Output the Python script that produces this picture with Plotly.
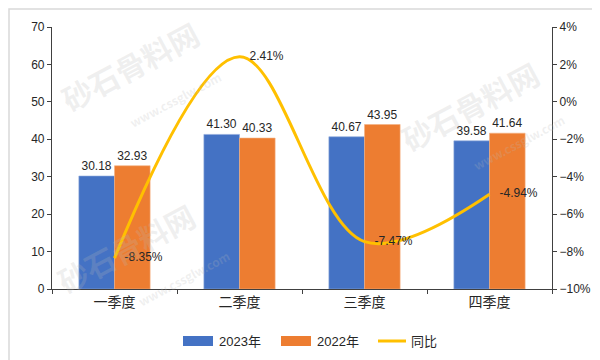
import plotly.graph_objects as go

categories = ["一季度", "二季度", "三季度", "四季度"]
values_2023 = [30.18, 41.30, 40.67, 39.58]
values_2022 = [32.93, 40.33, 43.95, 41.64]
yoy = [-8.35, 2.41, -7.47, -4.94]

font_family = "Liberation Sans, Noto Sans CJK SC, sans-serif"
txt = "#262626"
c23, c22, cl = "#4472C4", "#ED7D31", "#FFC000"

fig = go.Figure()
fig.add_trace(go.Bar(
    x=categories, y=values_2023, name="2023年",
    marker=dict(color=c23, line=dict(color="#8FAADC", width=0.6)),
    text=[f"{v:.2f}" for v in values_2023], textposition="outside",
    textfont=dict(size=12, color=txt), cliponaxis=False,
))
fig.add_trace(go.Bar(
    x=categories, y=values_2022, name="2022年",
    marker=dict(color=c22, line=dict(color="#F4B183", width=0.6)),
    text=[f"{v:.2f}" for v in values_2022], textposition="outside",
    textfont=dict(size=12, color=txt), cliponaxis=False,
))
fig.add_trace(go.Scatter(
    x=categories, y=yoy, name="同比", yaxis="y2",
    mode="lines+text", line=dict(color=cl, width=3, shape="spline", smoothing=1.0),
    text=[f"   {v:.2f}%" for v in yoy], textposition="middle right",
    textfont=dict(size=12, color=txt), cliponaxis=False,
))

def px(x):
    return (x - 44) / 500

def py(y):
    return (281 - y) / 262

# faint watermarks (pixel centres)
wm = [
    (122, 58, "砂石骨料网", 30), (167, 92, "www.cssglw.com", 12),
    (462, 98, "砂石骨料网", 30), (510, 134, "www.cssglw.com", 12),
    (118, 240, "砂石骨料网", 30), (175, 270, "www.cssglw.com", 12),
]
for x, y, t, s in wm:
    fig.add_annotation(x=px(x), y=py(y), xref="paper", yref="paper", text=t, showarrow=False,
                       textangle=-28, xanchor="center", yanchor="middle",
                       font=dict(size=s, color="rgba(185,185,185,0.22)",
                                 family="Noto Sans CJK SC", weight="bold"))

fig.add_shape(type="rect", xref="paper", yref="paper",
              x0=px(1), x1=px(599), y0=py(359), y1=py(1),
              line=dict(color="#D9D9D9", width=1.5), layer="below")

# custom legend
leg_y = 333
fig.add_shape(type="rect", xref="paper", yref="paper", x0=px(175), x1=px(205),
              y0=py(leg_y + 5), y1=py(leg_y - 5), fillcolor=c23, line=dict(width=0))
fig.add_shape(type="rect", xref="paper", yref="paper", x0=px(273), x1=px(303),
              y0=py(leg_y + 5), y1=py(leg_y - 5), fillcolor=c22, line=dict(width=0))
fig.add_shape(type="line", xref="paper", yref="paper", x0=px(370), x1=px(398),
              y0=py(leg_y), y1=py(leg_y), line=dict(color=cl, width=3))
for x, t in [(209, "2023年"), (307, "2022年"), (401, "同比")]:
    fig.add_annotation(x=px(x), y=py(leg_y), xref="paper", yref="paper", text=t,
                       showarrow=False, xanchor="left", yanchor="middle",
                       font=dict(size=13, color=txt))

axis_line = "#404040"
fig.update_layout(
    width=600, height=360,
    margin=dict(l=44, r=56, t=19, b=79),
    paper_bgcolor="white", plot_bgcolor="white",
    font=dict(family=font_family, size=12, color=txt),
    barmode="group", bargap=0.43, bargroupgap=0,
    showlegend=False,
    xaxis=dict(showline=True, linecolor=axis_line, linewidth=1.2, ticks="outside",
               tickson="boundaries", ticklen=4, tickcolor=axis_line,
               tickfont=dict(size=14, color=txt), showgrid=False),
    yaxis=dict(range=[0, 70], dtick=10, showline=True, linecolor=axis_line, linewidth=1.2,
               ticks="outside", ticklen=4, tickcolor=axis_line, showgrid=False,
               zeroline=False, tickfont=dict(size=12, color=txt)),
    yaxis2=dict(range=[-10, 4], dtick=2, overlaying="y", side="right", showline=True,
                linecolor=axis_line, linewidth=1.2, ticks="outside", ticklen=4,
                tickcolor=axis_line, showgrid=False, zeroline=False, ticksuffix="%",
                tickfont=dict(size=12, color=txt)),
)

fig.write_html("out.html")
